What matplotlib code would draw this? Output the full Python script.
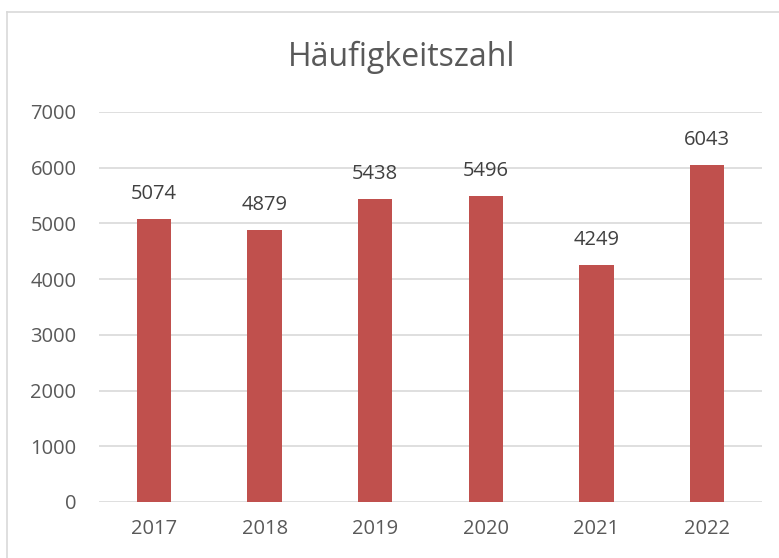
import matplotlib
matplotlib.use('Agg')
import matplotlib.pyplot as plt
from matplotlib.lines import Line2D

plt.rcParams['font.family'] = ['Open Sans', 'DejaVu Sans']

years = ['2017', '2018', '2019', '2020', '2021', '2022']
values = [5074, 4879, 5438, 5496, 4249, 6043]

bar_color = '#C0504D'
text_color = '#595959'
label_color = '#404040'
grid_color = '#D9D9D9'

fig = plt.figure(figsize=(7.79, 5.58), dpi=100)
ax = fig.add_axes([0.1267, 0.1004, 0.8519, 0.6989])

x = range(len(years))
ax.bar(x, values, width=0.31, color=bar_color, zorder=3)
for xi, v in zip(x, values):
    ax.annotate(str(v), (xi, v), xytext=(0, 11), textcoords='offset points',
                ha='center', va='bottom', fontsize=14.5, color=label_color)

ax.set_xlim(-0.5, len(years) - 0.5)
ax.set_ylim(0, 7000)
ax.set_yticks(range(0, 7001, 1000))
ax.set_xticks(list(x))
ax.set_xticklabels(years)
ax.yaxis.grid(True, color=grid_color, linewidth=1.2, zorder=0)
ax.set_axisbelow(True)
for s in ax.spines.values():
    s.set_visible(False)
ax.tick_params(axis='both', length=0, labelsize=14.5, colors=text_color)
ax.tick_params(axis='y', pad=16)
ax.tick_params(axis='x', pad=12)

fig.text(0.515, 0.897, 'Häufigkeitszahl', ha='center', va='center',
         fontsize=23, color=text_color)

# chart area border (right/bottom cut off)
fig.add_artist(Line2D([7/779, 1], [1 - 12/558] * 2, color=grid_color, lw=1.2))
fig.add_artist(Line2D([7/779] * 2, [0, 1 - 12/558], color=grid_color, lw=1.2))

fig.savefig('out.png', dpi=100)
